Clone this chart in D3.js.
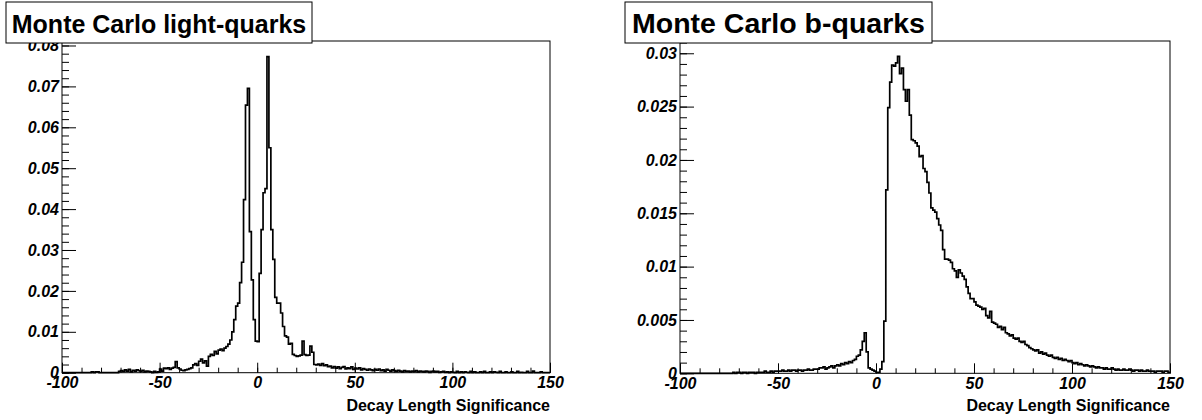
<!DOCTYPE html>
<html>
<head>
<meta charset="utf-8">
<script src="https://cdn.jsdelivr.net/npm/d3@7"></script>
<style>
  body { margin: 0; background: #fff; }
  svg { display: block; }
  text { font-family: "Liberation Sans", Arial, Helvetica, sans-serif; }
</style>
</head>
<body>
<script>
// binning: 250 bins of width 1 from -100 to 150
const xLow = -100;
const binWidth = 1;
const xMajorTicks = [-100, -50, 0, 50, 100, 150];
const xMinorTicks = d3.range(-100, 151, 10);

// light-quark decay length significance, one value per bin (from -100 up)
const lightQuarks = [
  0, 0, 0, 0, 0, 0, 0, 0, 0, 0,
  0, 0, 0, 0, 0, 0.0002, 0, 0.0002, 0.0002, 0,
  0, 0, 0, 0, 0, 0, 0, 0, 0, 0.0003,
  0.0005, 0.0003, 0.0007, 0.0004, 0.0008, 0.0002, 0.0006, 0.0004, 0.0007, 0.0005,
  0.0003, 0.0006, 0.0002, 0.0004, 0.0003, 0.0002, 0, 0.0003, 0.0001, 0.0002,
  0.0009, 0.0004, 0.0011, 0.0010, 0.0012, 0.0008, 0.0011, 0.0013, 0.0027, 0.0012,
  0.0009, 0.0006, 0.0005, 0.0007, 0.0008, 0.0010, 0.0012, 0.0019, 0.0022, 0.0018,
  0.0028, 0.0033, 0.0024, 0.0029, 0.0016, 0.0040, 0.0045, 0.0042, 0.0052, 0.0046,
  0.0055, 0.0058, 0.0054, 0.0060, 0.0064, 0.0070, 0.0080, 0.0100, 0.0130, 0.0163,
  0.0170, 0.0220, 0.0270, 0.0423, 0.0654, 0.0695, 0.0345, 0.0227, 0.0130, 0.0077,
  0.0076, 0.0243, 0.0350, 0.0440, 0.0450, 0.0773, 0.0550, 0.0350, 0.0277, 0.0184,
  0.0170, 0.0170, 0.0146, 0.0113, 0.0090, 0.0087, 0.0070, 0.0072, 0.0045, 0.0042,
  0.0040, 0.0041, 0.0043, 0.0077, 0.0044, 0.0042, 0.0043, 0.0065, 0.0050, 0.0020,
  0.0019, 0.0021, 0.0018, 0.0022, 0.0017, 0.0019, 0.0015, 0.0016, 0.0012, 0.0015,
  0.0011, 0.0014, 0.0010, 0.0013, 0.0015, 0.0009, 0.0012, 0.0010, 0.0014, 0.0008,
  0.0011, 0.0009, 0.0012, 0.0007, 0.0010, 0.0008, 0.0006, 0.0009, 0.0007, 0.0005,
  0.0008, 0.0006, 0.0009, 0.0005, 0.0007, 0.0004, 0.0008, 0.0006, 0.0004, 0.0007,
  0.0005, 0.0003, 0.0006, 0.0004, 0.0002, 0.0005, 0.0003, 0.0004, 0.0002, 0.0004,
  0.0003, 0.0005, 0.0002, 0.0004, 0.0003, 0.0002, 0.0004, 0.0003, 0.0001, 0.0003,
  0.0004, 0.0002, 0.0003, 0.0001, 0.0002, 0.0003, 0.0001, 0.0002, 0, 0.0002,
  0.0001, 0, 0.0003, 0, 0.0002, 0, 0.0002, 0.0001, 0, 0.0003,
  0, 0.0002, 0, 0, 0.0002, 0, 0.0003, 0, 0, 0.0002,
  0, 0.0002, 0.0001, 0, 0.0003, 0, 0, 0.0002, 0, 0,
  0.0002, 0, 0, 0.0003, 0, 0.0001, 0, 0, 0.0003, 0,
  0, 0.0004, 0, 0, 0, 0.0002, 0, 0, 0, 0
];

// b-quark decay length significance, one value per bin (from -100 up)
const bQuarks = [
  0, 0, 0, 0, 0, 0, 0, 0, 0, 0,
  0, 0, 0, 0, 0, 0, 0, 0, 0, 0,
  0, 0, 0, 0, 0, 0, 0, 0.0001, 0, 0.0001,
  0.0001, 0, 0.0001, 0.0001, 0, 0.0001, 0.0001, 0.0001, 0, 0.0001,
  0.0001, 0.0001, 0.0001, 0.0002, 0.0001, 0.0001, 0.0002, 0.0001, 0.0002, 0.0002,
  0.0002, 0.0002, 0.0003, 0.0002, 0.0002, 0.0003, 0.0002, 0.0003, 0.0003, 0.0002,
  0.0003, 0.0003, 0.0002, 0.0003, 0.0003, 0.0004, 0.0003, 0.0003, 0.0004, 0.0004,
  0.0004, 0.0005, 0.0005, 0.0006, 0.0004, 0.0005, 0.0006, 0.0007, 0.0005, 0.0007,
  0.0008, 0.0007, 0.0009, 0.0008, 0.0010, 0.0009, 0.0011, 0.0010, 0.0012, 0.0013,
  0.0016, 0.0017, 0.0022, 0.0030, 0.0038, 0.0020, 0.0005, 0.0004, 0.0003, 0.0002,
  0.0001, 0.0001, 0.0004, 0.0011, 0.0049, 0.0172, 0.0249, 0.0273, 0.0289, 0.0288,
  0.0291, 0.0297, 0.0281, 0.0286, 0.0266, 0.0255, 0.0266, 0.0242, 0.0219, 0.0218,
  0.0216, 0.0213, 0.0203, 0.0204, 0.0192, 0.0189, 0.0179, 0.0169, 0.0155, 0.0153,
  0.0151, 0.0145, 0.0139, 0.0134, 0.0116, 0.0107, 0.0107, 0.0106, 0.0104, 0.0098,
  0.0096, 0.0090, 0.0097, 0.0094, 0.0091, 0.0088, 0.0081, 0.0075, 0.0070, 0.0070,
  0.0067, 0.0064, 0.0063, 0.0062, 0.0060, 0.0061, 0.0054, 0.0052, 0.0058, 0.0048,
  0.0047, 0.0046, 0.0043, 0.0044, 0.0041, 0.0043, 0.0038, 0.0037, 0.0035, 0.0036,
  0.0033, 0.0032, 0.0033, 0.0030, 0.0029, 0.0030, 0.0027, 0.0026, 0.0024, 0.0023,
  0.0022, 0.0021, 0.0022, 0.0019, 0.0020, 0.0018, 0.0019, 0.0017, 0.0016, 0.0017,
  0.0015, 0.0014, 0.0015, 0.0013, 0.0014, 0.0012, 0.0013, 0.0012, 0.0011, 0.0012,
  0.0010, 0.0009, 0.0010, 0.0008, 0.0009, 0.0008, 0.0007, 0.0008, 0.0007, 0.0006,
  0.0007, 0.0006, 0.0005, 0.0006, 0.0005, 0.0005, 0.0004, 0.0005, 0.0004, 0.0004,
  0.0005, 0.0004, 0.0003, 0.0004, 0.0003, 0.0003, 0.0004, 0.0003, 0.0003, 0.0004,
  0.0003, 0.0002, 0.0003, 0.0003, 0.0002, 0.0003, 0.0002, 0.0002, 0.0003, 0.0002,
  0.0002, 0.0002, 0.0001, 0.0002, 0.0002, 0.0002, 0.0001, 0.0002, 0.0002, 0.0001
];

const lightYTicks = [0, 0.01, 0.02, 0.03, 0.04, 0.05, 0.06, 0.07, 0.08];
const bYTicks = [0, 0.005, 0.01, 0.015, 0.02, 0.025, 0.03];

const xTitle = "Decay Length Significance";

const width = 1202;
const height = 420;

const svg = d3.select("body")
  .append("svg")
  .attr("width", width)
  .attr("height", height);

// per-pad layout (pixel boxes)
const panels = [
  {
    title: "Monte Carlo light-quarks", titleSize: 25,
    values: lightQuarks, yMax: 0.0811, yTicks: lightYTicks, yMinorStep: 0.002,
    left: 62, right: 550, bottom: 372.7, top: 41,
    box: { x: 6, y: 2, w: 306, h: 41 }
  },
  {
    title: "Monte Carlo b-quarks", titleSize: 28.5,
    values: bQuarks, yMax: 0.03115, yTicks: bYTicks, yMinorStep: 0.001,
    left: 680, right: 1170, bottom: 373.3, top: 41,
    box: { x: 625, y: 2, w: 307, h: 41 }
  }
];

const fmt = (d) => d === 0 ? "0" : String(+d.toFixed(3));

panels.forEach((p) => {
  const g = svg.append("g");

  const x = d3.scaleLinear().domain([-100, 150]).range([p.left, p.right]);
  const y = d3.scaleLinear().domain([0, p.yMax]).range([p.bottom, p.top]);

  // frame
  g.append("rect")
    .attr("x", p.left).attr("y", p.top)
    .attr("width", p.right - p.left).attr("height", p.bottom - p.top)
    .attr("fill", "none").attr("stroke", "#000").attr("stroke-width", 1);

  // y axis: minor then major ticks, pointing inward
  const yMinor = d3.range(0, p.yMax + 1e-9, p.yMinorStep);
  g.append("g")
    .attr("transform", `translate(${p.left},0)`)
    .call(d3.axisLeft(y).tickValues(yMinor).tickSize(-7).tickSizeOuter(0).tickFormat(""))
    .call((a) => a.select(".domain").remove());
  const yAx = g.append("g")
    .attr("transform", `translate(${p.left},0)`)
    .call(d3.axisLeft(y).tickValues(p.yTicks).tickSize(-14).tickSizeOuter(0).tickPadding(3).tickFormat(fmt));
  yAx.select(".domain").remove();

  // x axis
  g.append("g")
    .attr("transform", `translate(0,${p.bottom})`)
    .call(d3.axisBottom(x).tickValues(xMinorTicks).tickSize(-5).tickSizeOuter(0).tickFormat(""))
    .call((a) => a.select(".domain").remove());
  const xAx = g.append("g")
    .attr("transform", `translate(0,${p.bottom})`)
    .call(d3.axisBottom(x).tickValues(xMajorTicks).tickSize(-10).tickSizeOuter(0).tickPadding(4).tickFormat((d) => String(d)));
  xAx.select(".domain").remove();

  svg.selectAll(".tick line").attr("stroke", "#000").attr("stroke-width", 1);
  g.selectAll(".tick text")
    .attr("font-family", "'Liberation Sans', Arial, Helvetica, sans-serif")
    .attr("font-size", 16)
    .attr("font-weight", "bold")
    .attr("font-style", "italic")
    .attr("fill", "#000");

  // histogram outline
  const pts = [[xLow, 0]];
  p.values.forEach((v, i) => pts.push([xLow + i * binWidth, v]));
  pts.push([xLow + p.values.length * binWidth, p.values[p.values.length - 1]]);
  const line = d3.line()
    .x((d) => x(d[0]))
    .y((d) => y(d[1]))
    .curve(d3.curveStepAfter);
  g.append("path")
    .attr("d", line(pts))
    .attr("fill", "none")
    .attr("stroke", "#000")
    .attr("stroke-width", 1.7);

  // axis title
  g.append("text")
    .attr("x", p.right)
    .attr("y", 411)
    .attr("text-anchor", "end")
    .attr("font-size", 16)
    .attr("font-weight", "bold")
    .text(xTitle);

  // title box
  g.append("rect")
    .attr("x", p.box.x).attr("y", p.box.y)
    .attr("width", p.box.w).attr("height", p.box.h)
    .attr("fill", "#fff").attr("stroke", "#000").attr("stroke-width", 1);
  g.append("text")
    .attr("x", p.box.x + p.box.w / 2)
    .attr("y", 33.3)
    .attr("text-anchor", "middle")
    .attr("font-size", p.titleSize)
    .attr("font-weight", "bold")
    .text(p.title);
});
</script>
</body>
</html>
